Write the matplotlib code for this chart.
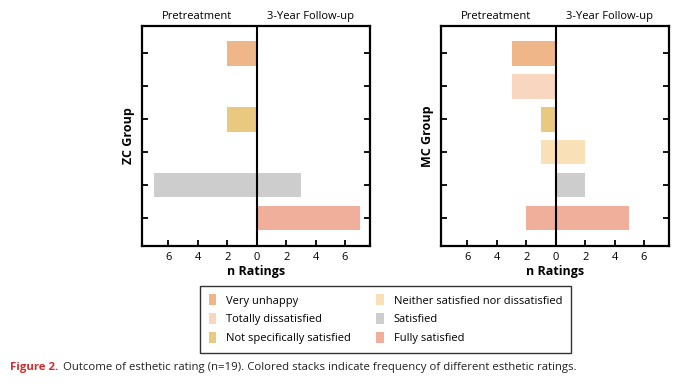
import numpy as np
import matplotlib
matplotlib.use('Agg')
import matplotlib.pyplot as plt
from matplotlib.patches import Patch

plt.rcParams['font.family'] = ['Open Sans', 'DejaVu Sans']

categories = ["Very unhappy", "Totally dissatisfied", "Not specifically satisfied",
              "Neither satisfied nor dissatisfied", "Satisfied", "Fully satisfied"]
colors = ["#EFB68A", "#F8D6BF", "#E9C97F", "#F9E0B6", "#CDCDCD", "#EFAF9B"]

zc_pre = [2, 0, 2, 0, 7, 0]
zc_post = [0, 0, 0, 0, 3, 7]
mc_pre = [3, 3, 1, 1, 0, 2]
mc_post = [0, 0, 0, 2, 2, 5]

xticks = [-6, -4, -2, 0, 2, 4, 6]
xticklabels = ["6", "4", "2", "0", "2", "4", "6"]

fig = plt.figure(figsize=(6.82, 3.88), dpi=100)
ax1 = fig.add_axes([0.2082, 0.366, 0.3343, 0.567])
ax2 = fig.add_axes([0.6466, 0.366, 0.3343, 0.567])


def draw_panel(ax, pre, post, ylabel):
    y = np.arange(len(categories))
    ax.barh(y, -np.array(pre), height=0.75, color=colors)
    ax.barh(y, post, height=0.75, color=colors)
    ax.axvline(0, color="black", lw=1.5)
    ax.set_xlim(-7.8, 7.7)
    ax.set_ylim(5.85, -0.83)
    ax.set_xticks(xticks)
    ax.set_xticklabels(xticklabels, fontsize=8)
    ax.set_yticks(y)
    ax.set_yticklabels([])
    ax.tick_params(axis="x", direction="in", length=4, width=1.3, pad=4)
    ax.tick_params(axis="y", direction="in", length=4, width=1.3, left=True, right=True)
    for s in ax.spines.values():
        s.set_linewidth(1.6)
    ax.set_xlabel("n Ratings", fontsize=9, fontweight="bold", labelpad=2)
    ax.set_ylabel(ylabel, fontsize=9, fontweight="bold", labelpad=1.5)
    ax.text(0.24, 1.045, "Pretreatment", transform=ax.transAxes, ha="center",
            va="center", fontsize=8)
    ax.text(0.737, 1.045, "3-Year Follow-up", transform=ax.transAxes, ha="center",
            va="center", fontsize=8)


draw_panel(ax1, zc_pre, zc_post, "ZC Group")
draw_panel(ax2, mc_pre, mc_post, "MC Group")

# legend, filled column by column
handles = [Patch(facecolor=c, edgecolor="none") for c in colors]
leg = fig.legend(handles, categories, loc="center", bbox_to_anchor=(0.565, 0.177),
                 ncol=2, fontsize=8, frameon=True, fancybox=False,
                 handlelength=0.7, handleheight=1.1, columnspacing=2.2,
                 labelspacing=0.6, borderpad=0.8, handletextpad=0.9,
                 borderaxespad=0)
leg.get_frame().set_edgecolor("black")
leg.get_frame().set_linewidth(1.0)

fig.text(0.014, 0.046, "Figure 2.", color="#D12B2E", fontweight="bold", fontsize=8.2)
fig.text(0.092, 0.046, "Outcome of esthetic rating (n=19). Colored stacks indicate "
         "frequency of different esthetic ratings.", color="#222222", fontsize=8.2)

fig.savefig("out.png", dpi=100)
